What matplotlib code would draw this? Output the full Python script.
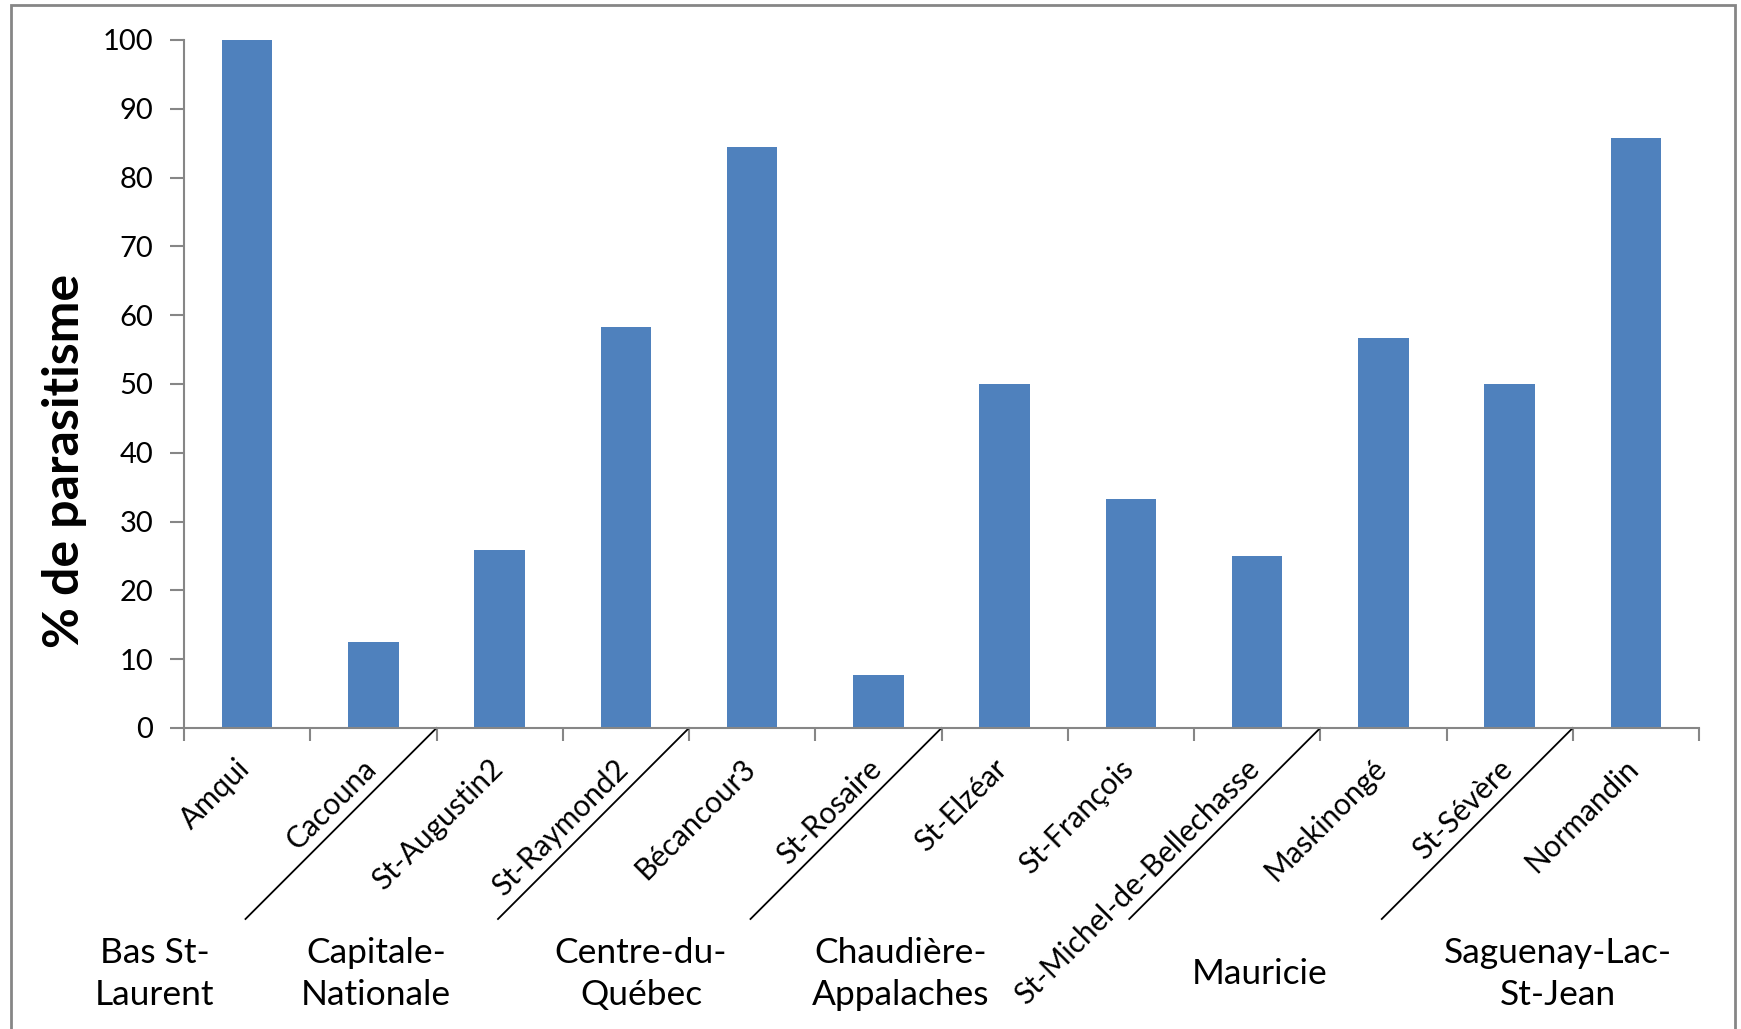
import matplotlib.pyplot as plt
import matplotlib.transforms as mtransforms
from matplotlib.patches import Rectangle
import numpy as np

plt.rcParams['font.family'] = ['Lato', 'DejaVu Sans']

# Sites, grouped by region
sites = ['Amqui', 'Cacouna', 'St-Augustin2', 'St-Raymond2', 'Bécancour3',
         'St-Rosaire', 'St-Elzéar', 'St-François', 'St-Michel-de-Bellechasse',
         'Maskinongé', 'St-Sévère', 'Normandin']
parasitism = [100, 12.5, 25.8, 58.3, 84.4, 7.7, 50, 33.3, 25, 56.7, 50, 85.7]

regions = ['Bas St-\nLaurent', 'Capitale-\nNationale', 'Centre-du-\nQuébec',
           'Chaudière-\nAppalaches', 'Mauricie', 'Saguenay-Lac-\nSt-Jean']
region_sizes = [2, 2, 2, 3, 2, 1]

# where each region name sits along the axis (category units)
region_label_x = [-0.73, 1.02, 3.12, 5.18, 8.02, 10.38]

BAR = '#4F81BD'
AXIS = '#868686'

fig = plt.figure(figsize=(17.41, 10.29), dpi=100)
ax = fig.add_axes([184 / 1741, 1 - 728 / 1029, (1699 - 184) / 1741, (728 - 40) / 1029])

x = np.arange(len(sites))
ax.bar(x, parasitism, width=0.4, color=BAR, zorder=2)

ax.set_xlim(-0.5, len(sites) - 0.5)
ax.set_ylim(0, 100)
ax.set_yticks(np.arange(0, 101, 10))
ax.tick_params(axis='y', labelsize=21, length=10, width=1.5, color=AXIS, pad=12)

# ticks on category boundaries, names on the centres
ax.set_xticks(np.arange(-0.5, len(sites), 1.0))
ax.set_xticklabels([])
ax.tick_params(axis='x', which='major', length=9, width=1.5, color=AXIS)
ax.set_xticks(x, minor=True)
ax.set_xticklabels(sites, minor=True, rotation=45, ha='right', va='top', fontsize=21.4)
ax.tick_params(axis='x', which='minor', length=0, pad=19)
shift = mtransforms.ScaledTranslation(8 / 100, 0, fig.dpi_scale_trans)
for lbl in ax.get_xticklabels(minor=True):
    lbl.set_transform(lbl.get_transform() + shift)

for side in ['top', 'right']:
    ax.spines[side].set_visible(False)
for side in ['left', 'bottom']:
    ax.spines[side].set_color(AXIS)
    ax.spines[side].set_linewidth(1.5)

ax.text(-0.079, 0.388, '% de parasitisme', transform=ax.transAxes, rotation=90,
        ha='center', va='center', fontsize=36, fontweight='bold')

# diagonal separators between regions
drop_px = 191
px_per_unit = ax.bbox.width / (ax.get_xlim()[1] - ax.get_xlim()[0])
drop_axes = drop_px / ax.bbox.height
bounds = np.cumsum(region_sizes)[:-1] - 0.5
trans = mtransforms.blended_transform_factory(ax.transData, ax.transAxes)
for b in bounds:
    ax.plot([b, b - drop_px / px_per_unit], [0, -drop_axes], color='black',
            linewidth=1.3, transform=trans, clip_on=False)

for name, xpos in zip(regions, region_label_x):
    ax.text(xpos, -0.3576, name, transform=trans, ha='center', va='center',
            multialignment='center', fontsize=25.5, linespacing=1.39)

# chart-area border
fig.patches.append(Rectangle((11 / 1741, -0.02), (1735 - 11) / 1741, 1.02 - 5.5 / 1029,
                             transform=fig.transFigure, fill=False,
                             edgecolor=AXIS, linewidth=2))

fig.savefig('out.png', dpi=100)
